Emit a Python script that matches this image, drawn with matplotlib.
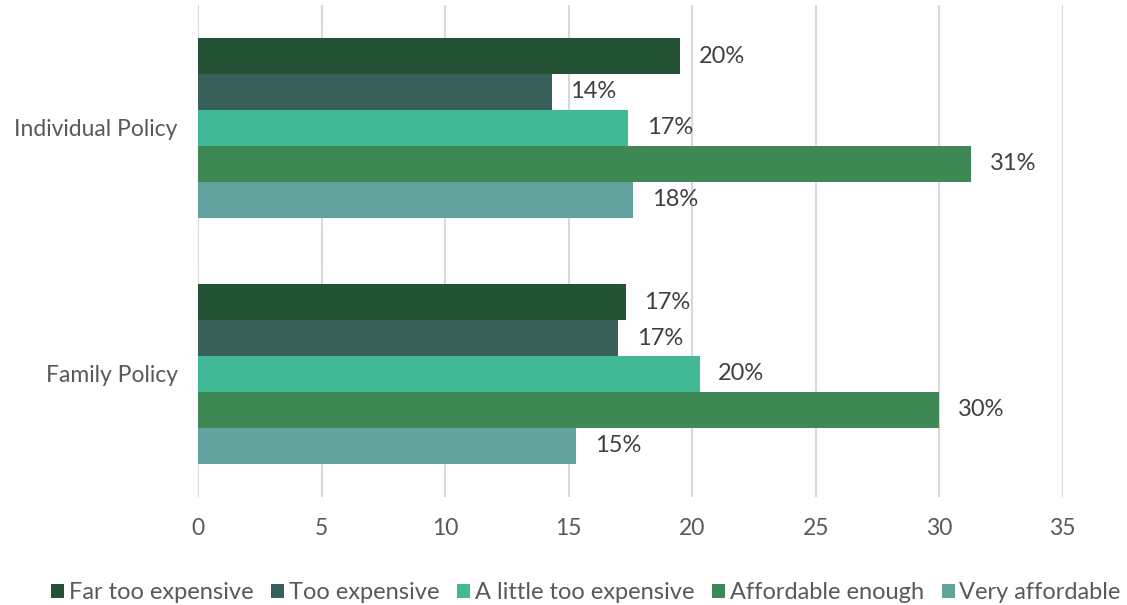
import numpy as np
from matplotlib import pyplot as plt

plt.rcParams['font.family'] = ['Lato', 'DejaVu Sans']

policies = ['Individual Policy', 'Family Policy']
answers = ['Far too expensive', 'Too expensive', 'A little too expensive',
           'Affordable enough', 'Very affordable']
# share of respondents (%), one list per answer: [individual, family]
far_too = [19.52, 17.3]
too = [14.3, 17.0]
little_too = [17.4, 20.3]
affordable = [31.3, 30.0]
very_affordable = [17.6, 15.3]
series = [far_too, too, little_too, affordable, very_affordable]
colors = ['#245234', '#37605B', '#41B997', '#3E8855', '#62A39E']

fig = plt.figure(figsize=(11.27, 6.05), dpi=100)
ax = fig.add_axes([0.176, 0.1785, 0.767, 0.8135])

y = np.arange(len(policies))
h = 0.146
for i, (vals, c, name) in enumerate(zip(series, colors, answers)):
    pos = y - 2 * h + i * h
    ax.barh(pos, vals, height=h, color=c, label=name, zorder=3)
    for p, v in zip(pos, vals):
        ax.text(v + 0.75, p, f'{v:.0f}%', va='center', ha='left',
                fontsize=17, color='#404040')

ax.set_xlim(0, 35)
ax.set_ylim(-0.5, 1.5)
ax.invert_yaxis()
ax.set_xticks(range(0, 36, 5))
ax.set_yticks(y)
ax.set_yticklabels(policies)
ax.grid(axis='x', color='#D9D9D9', linewidth=1.5, zorder=0)
for s in ax.spines.values():
    s.set_visible(False)
ax.tick_params(length=0, labelsize=16.5, colors='#595959')
ax.tick_params(axis='x', pad=15)
ax.tick_params(axis='y', pad=15)

fig.legend(loc='lower center', bbox_to_anchor=(0.52, -0.032), ncol=5,
           frameon=False, fontsize=17, handlelength=0.55, handleheight=0.55,
           handletextpad=0.2, columnspacing=0.75, labelcolor='#595959')

fig.savefig('out.png')
